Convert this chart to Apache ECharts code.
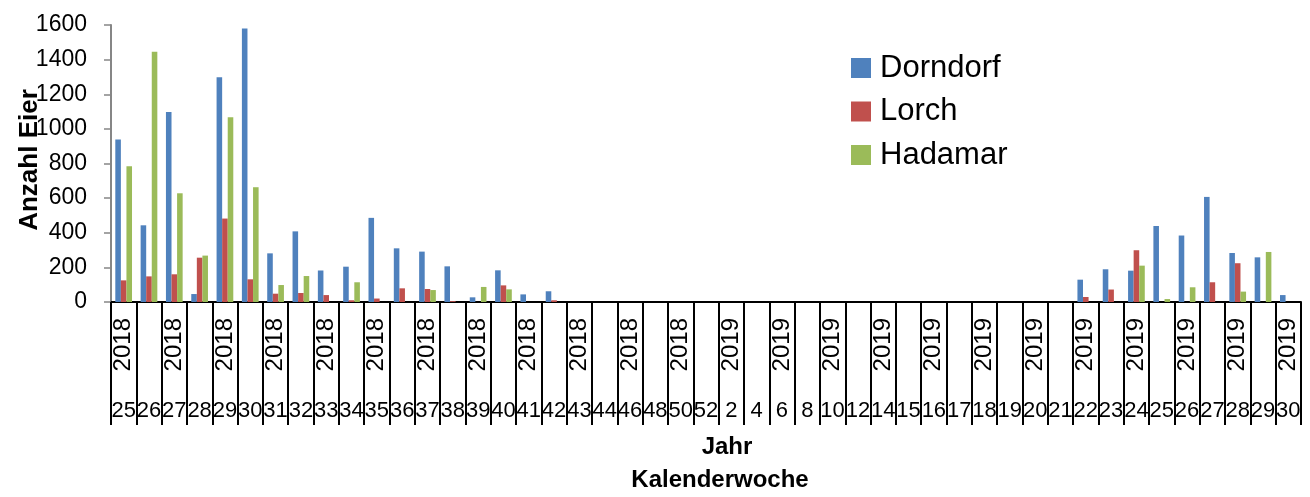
<!DOCTYPE html>
<html>
<head>
<meta charset="utf-8">
<script src="https://cdn.jsdelivr.net/npm/echarts@6/dist/echarts.min.js"></script>
<style>
  html, body { margin: 0; padding: 0; background: #fff; }
  #chart { width: 1310px; height: 497px; }
</style>
</head>
<body>
<div id="chart"></div>
<script>
// Kalenderwochen (untere Achsenzeile) und Jahre (obere Achsenzeile)
const weeks = [
  '25','26','27','28','29','30','31','32','33','34','35','36','37','38','39','40','41','42',
  '43','44','46','48','50','52',
  '2','4','6','8','10','12','14','15','16','17','18','19','20','21',
  '22','23','24','25','26','27','28','29','30'
];
const years = [
  '2018','2018','2018','2018','2018','2018','2018','2018','2018','2018','2018','2018',
  '2018','2018','2018','2018','2018','2018','2018','2018','2018','2018','2018','2018',
  '2019','2019','2019','2019','2019','2019','2019','2019','2019','2019','2019','2019',
  '2019','2019','2019','2019','2019','2019','2019','2019','2019','2019','2019'
];

// Anzahl Eier je Standort
const dorndorf = [
  938, 443, 1098, 46, 1298, 1580, 281, 408, 182, 204, 486, 310, 291, 206, 27, 183, 44, 62,
  0, 0, 0, 0, 0, 0,
  0, 0, 0, 0, 0, 0, 0, 0, 0, 0, 0, 0, 0, 0,
  129, 189, 181, 439, 384, 607, 283, 258, 40
];
const lorch = [
  125, 148, 160, 256, 482, 131, 48, 52, 40, 10, 20, 79, 75, 5, 0, 96, 0, 10,
  0, 0, 0, 0, 0, 0,
  0, 0, 0, 0, 0, 0, 0, 0, 0, 0, 0, 0, 0, 0,
  29, 72, 299, 0, 0, 114, 224, 0, 0
];
const hadamar = [
  784, 1445, 628, 268, 1067, 663, 98, 150, 0, 114, 0, 0, 69, 0, 87, 73, 0, 0,
  0, 0, 0, 0, 0, 0,
  0, 0, 0, 0, 0, 0, 0, 0, 0, 0, 0, 0, 0, 0,
  0, 0, 210, 17, 85, 0, 60, 289, 0
];

const yTicks = { min: 0, max: 1600, interval: 200 };

const FONT = '"Liberation Sans", Arial, sans-serif';
const colors = ['#4F81BD', '#C0504D', '#9BBB59'];

const chart = echarts.init(document.getElementById('chart'), null, { renderer: 'canvas' });

function barSeries(name, data, color) {
  return {
    name: name,
    type: 'bar',
    xAxisIndex: 0,
    data: data,
    barGap: '0%',
    barCategoryGap: '34%',
    itemStyle: { color: color },
    emphasis: { disabled: true }
  };
}

chart.setOption({
  animation: false,
  color: colors,
  grid: { left: 111, right: 9, top: 25, bottom: 195, containLabel: false },
  legend: {
    orient: 'vertical',
    left: 851,
    top: 52,
    padding: 0,
    icon: 'rect',
    itemWidth: 20,
    itemHeight: 20,
    itemGap: 11.5,
    textStyle: { fontFamily: FONT, fontSize: 31, color: '#000', lineHeight: 32, padding: [0, 0, 0, 4] },
    data: ['Dorndorf', 'Lorch', 'Hadamar']
  },
  xAxis: [
    {
      type: 'category',
      data: weeks,
      position: 'bottom',
      axisLine: { show: true, lineStyle: { color: '#000', width: 2 } },
      axisTick: { show: true, interval: 0, length: 123, lineStyle: { color: '#000', width: 2 } },
      axisLabel: { interval: 0, margin: 98, fontFamily: FONT, fontSize: 22, color: '#000' },
      splitLine: { show: false }
    },
    {
      type: 'category',
      data: years,
      position: 'bottom',
      offset: 0,
      axisLine: { show: false },
      axisTick: { show: false },
      axisLabel: { interval: 1, rotate: 90, margin: 16, fontFamily: FONT, fontSize: 24, color: '#000' },
      splitLine: { show: false }
    }
  ],
  yAxis: {
    type: 'value',
    min: yTicks.min,
    max: yTicks.max,
    interval: yTicks.interval,
    axisLine: { show: true, lineStyle: { color: '#868686', width: 2 } },
    axisTick: { show: true, length: 7, lineStyle: { color: '#868686', width: 1.5 } },
    axisLabel: { margin: 24, fontFamily: FONT, fontSize: 23, color: '#000', formatter: v => String(v) },
    splitLine: { show: false }
  },
  graphic: [
    {
      type: 'text',
      x: 30, y: 160,
      rotation: Math.PI / 2,
      style: { text: 'Anzahl Eier', fontFamily: FONT, fontSize: 26, fontWeight: 'bold', fill: '#000', align: 'center', verticalAlign: 'middle' }
    },
    {
      type: 'text',
      x: 727, y: 447,
      style: { text: 'Jahr', fontFamily: FONT, fontSize: 24, fontWeight: 'bold', fill: '#000', align: 'center', verticalAlign: 'middle' }
    },
    {
      type: 'text',
      x: 720, y: 480,
      style: { text: 'Kalenderwoche', fontFamily: FONT, fontSize: 24, fontWeight: 'bold', fill: '#000', align: 'center', verticalAlign: 'middle' }
    }
  ],
  series: [
    barSeries('Dorndorf', dorndorf, colors[0]),
    barSeries('Lorch', lorch, colors[1]),
    barSeries('Hadamar', hadamar, colors[2])
  ]
});
</script>
</body>
</html>
